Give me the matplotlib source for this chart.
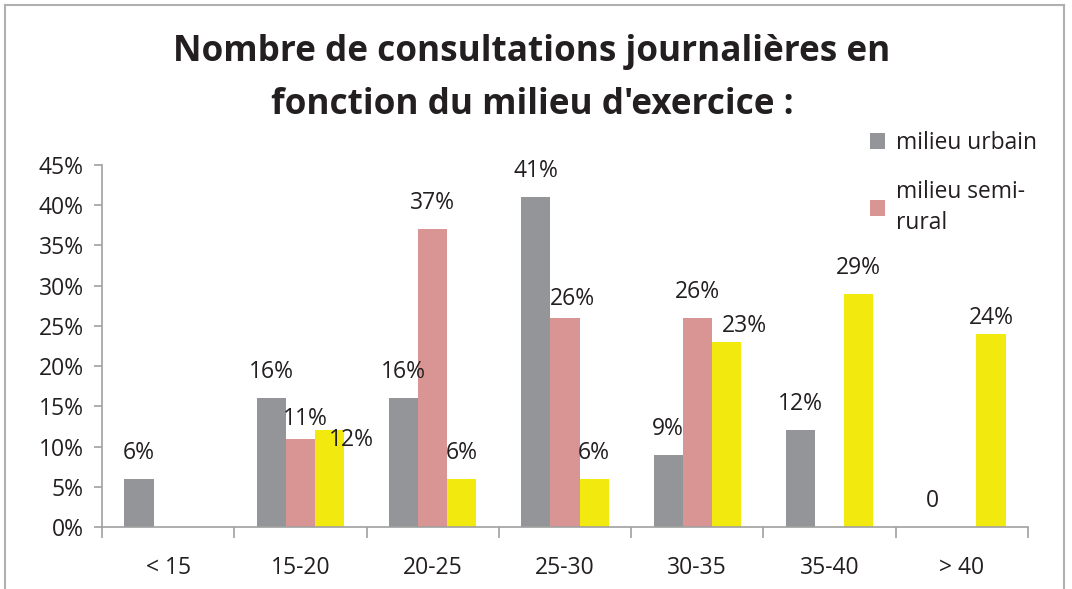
import numpy as np
import matplotlib.pyplot as plt
from matplotlib.lines import Line2D

plt.rcParams['font.family'] = ['Open Sans', 'DejaVu Sans']

# donnees
categories = ["< 15", "15-20", "20-25", "25-30", "30-35", "35-40", "> 40"]
urbain = [6, 16, 16, 41, 9, 12, 0]
semi_rural = [np.nan, 11, 37, 26, 26, np.nan, np.nan]
rural = [np.nan, 12, 6, 6, 23, 29, 24]
series_names = ["milieu urbain", "milieu semi-\nrural"]

# decalages manuels des etiquettes (pixels) pour suivre l'original
offsets_u = [(0, 26)] * 7
offsets_s = [(0, 0), (5, 20), (0, 26), (7, 19), (0, 26), (0, 0), (0, 0)]
offsets_r = [(0, 0), (22, -10), (0, 26), (0, 26), (18, 16), (0, 26), (0, 16)]

colors = ["#939598", "#d99594", "#f2e90f"]
txt_col = "#231f20"

fig = plt.figure(figsize=(10.72, 5.89), dpi=100)
ax = fig.add_axes([102/1072, 1-527/589, (1028-102)/1072, (527-165)/589])

x = np.arange(len(categories))
w = 0.22
bars = []
for k, (vals, offs) in enumerate([(urbain, offsets_u), (semi_rural, offsets_s), (rural, offsets_r)]):
    v = np.array(vals, dtype=float) / 100
    b = ax.bar(x + (k - 1) * w, np.nan_to_num(v), w, color=colors[k])
    bars.append(b)
    for i, val in enumerate(vals):
        if np.isnan(val):
            continue
        txt = "0" if val == 0 else f"{int(val)}%"
        dx, dy = offs[i]
        ax.annotate(txt, (x[i] + (k - 1) * w, val / 100), xytext=(dx * 0.72, dy * 0.72),
                    textcoords="offset points", ha="center", va="center",
                    fontsize=16.5, color=txt_col)

ax.set_xlim(-0.5, len(categories) - 0.5)
ax.set_ylim(0, 0.45)
ax.set_yticks(np.arange(0, 0.451, 0.05))
ax.set_yticklabels([f"{int(round(t*100))}%" for t in np.arange(0, 0.451, 0.05)])
ax.set_xticks(x)
ax.set_xticklabels(categories)
ax.set_xticks(np.arange(-0.5, len(categories)), minor=True)
ax.tick_params(axis="x", which="major", length=0, pad=21, labelsize=16.5, labelcolor=txt_col)
ax.tick_params(axis="x", which="minor", length=8, color="#a0a0a0", width=1.2)
ax.tick_params(axis="y", length=6, color="#a0a0a0", width=1.2, labelsize=16.5, labelcolor=txt_col, pad=7)
for s in ["top", "right"]:
    ax.spines[s].set_visible(False)
for s in ["left", "bottom"]:
    ax.spines[s].set_color("#a0a0a0")
    ax.spines[s].set_linewidth(1.2)

fig.text(532/1072, 1-52/589, "Nombre de consultations journalières en", ha="center", va="center",
         fontsize=25.3, fontweight="bold", color=txt_col)
fig.text(532/1072, 1-105/589, "fonction du milieu d'exercice :", ha="center", va="center",
         fontsize=25.3, fontweight="bold", color=txt_col)

leg = fig.legend(handles=[bars[0], bars[1]], labels=series_names, loc="upper left",
                 bbox_to_anchor=(849/1072, 1-110/589), frameon=False, fontsize=16.4,
                 handlelength=0.7, handleheight=0.7, handletextpad=0.45, labelspacing=1.1,
                 labelcolor=txt_col)
for t in leg.get_texts():
    t.set_linespacing(1.4)

# cadre du graphique
fig.add_artist(Line2D([5/1072, 5/1072], [0, 1-5/589], color="#b0b0b0", lw=1.5))
fig.add_artist(Line2D([5/1072, 1064/1072], [1-5/589, 1-5/589], color="#b0b0b0", lw=1.5))
fig.add_artist(Line2D([1064/1072, 1064/1072], [0, 1-5/589], color="#b0b0b0", lw=1.5))

fig.savefig("out.png", dpi=100)
